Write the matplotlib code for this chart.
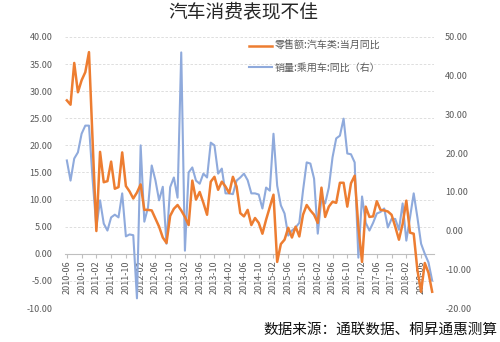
import matplotlib
matplotlib.use("Agg")
import matplotlib.pyplot as plt
import numpy as np
import pandas as pd

plt.rcParams['font.family'] = ['Noto Sans CJK SC', 'DejaVu Sans']

# Monthly series, 2010-06 .. 2018-09
months = pd.period_range("2010-06", "2018-09", freq="M").strftime("%Y-%m").tolist()

retail_auto_yoy = [
    28.3, 27.5, 35.2, 29.8, 32.0, 33.5, 37.2,
    20.5, 4.2, 18.8, 13.2, 13.4, 17.0, 12.0, 12.3, 18.7, 12.5, 11.5, 10.2,
    11.3, 12.8, 8.1, 8.1, 8.0, 6.5, 5.0, 3.0, 2.0, 7.0, 8.3, 9.0,
    8.0, 6.8, 5.3, 13.5, 10.0, 11.4, 9.4, 7.2, 13.3, 14.2, 11.8, 13.3,
    12.4, 11.2, 14.2, 12.4, 7.5, 6.9, 8.1, 5.3, 6.6, 5.7, 3.7, 6.3,
    8.6, 10.9, -1.5, 1.8, 2.6, 4.8, 3.0, 5.0, 3.2, 7.2, 9.0, 8.0,
    7.2, 5.7, 12.2, 6.8, 8.7, 9.6, 9.4, 13.1, 13.1, 8.7, 13.0, 14.4,
    5.0, -1.5, 8.7, 6.8, 6.9, 9.7, 8.1, 8.0, 7.8, 7.2, 5.0, 2.6,
    5.5, 9.8, 3.9, 3.7, -3.0, -7.0, -1.7, -3.5, -7.0,
]

car_sales_yoy = [
    18.1, 12.9, 18.6, 20.2, 25.0, 27.1, 27.1,
    13.0, 0.8, 7.8, 1.8, 0.0, 3.4, 4.1, 3.4, 9.6, -1.5, -1.0, -1.2,
    -17.5, 22.0, 2.3, 6.0, 16.8, 13.0, 7.8, 11.3, -3.4, 11.2, 13.7, 8.5,
    46.0, -5.2, 15.0, 16.3, 12.9, 12.1, 14.7, 13.7, 22.7, 22.0, 14.7, 16.0,
    9.6, 9.6, 9.4, 12.9, 13.7, 14.7, 13.0, 9.6, 9.6, 9.3, 5.7, 11.1,
    10.3, 25.0, 11.6, 6.5, 4.4, -1.3, 0.0, 0.8, 2.0, 10.3, 17.6, 17.3,
    13.4, -0.8, 8.3, 7.0, 11.1, 18.9, 23.8, 24.5, 28.9, 19.9, 19.7, 17.6,
    -7.0, 8.8, 2.0, 0.0, 2.0, 4.4, 4.8, 5.7, 0.8, 3.0, 3.0, 0.2,
    7.0, -2.6, 3.4, 9.6, 3.4, -3.4, -6.0, -8.2, -12.9,
]

left_ticks = [-10, -5, 0, 5, 10, 15, 20, 25, 30, 35, 40]
right_ticks = [-20, -10, 0, 10, 20, 30, 40, 50]

title = "汽车消费表现不佳"
label_retail = "零售额:汽车类:当月同比"
label_sales = "销量:乘用车:同比（右）"
source = "数据来源：通联数据、桐昇通惠测算"

ORANGE = "#ED7D31"
BLUE = "#8FAADC"
GREY = "#595959"

fig = plt.figure(figsize=(5.0, 3.42), dpi=100)
ax1 = fig.add_axes([0.130, 0.0994, 0.738, 0.7926])
ax2 = ax1.twinx()
ax2.set_zorder(ax1.get_zorder() - 1)
ax1.patch.set_visible(False)

ax1.set_xlim(-0.5, len(months) - 0.5)
ax1.set_ylim(-10, 40)
ax2.set_ylim(-20, 50)

x = np.arange(len(months))

# the sales series uses the right-hand scale but is drawn in the main axes
line_sales, = ax1.plot(x, car_sales_yoy, color=BLUE, lw=1.5, zorder=2,
                       transform=ax2.transData)
line_retail, = ax1.plot(x, retail_auto_yoy, color=ORANGE, lw=1.8, zorder=3)

ax1.set_axisbelow(True)

ax1.set_yticks(left_ticks)
ax1.set_yticklabels([f"{v:.2f}" for v in left_ticks], fontsize=6.5, color=GREY)
ax2.set_yticks(right_ticks)
ax2.set_yticklabels([f"{v:.2f}" for v in right_ticks], fontsize=6.5, color=GREY)
ax1.tick_params(axis='y', length=0, pad=9)
ax2.tick_params(axis='y', length=0, pad=8)

# gridlines on the left axis scale
for v in left_ticks:
    ax1.axhline(v, color="#D9D9D9", lw=0.6, ls=(0, (3, 2)), zorder=0.1)

for side in ["top", "left", "right"]:
    ax1.spines[side].set_visible(False)
    ax2.spines[side].set_visible(False)
ax2.spines["bottom"].set_visible(False)

# category axis drawn along zero
ax1.spines["bottom"].set_position(("data", 0))
ax1.spines["bottom"].set_color("#BFBFBF")
ax1.spines["bottom"].set_linewidth(0.8)
ax1.spines["bottom"].set_zorder(0.5)
tick_idx = list(range(0, len(months), 4))
ax1.set_xticks(tick_idx)
ax1.set_xticklabels([months[i] for i in tick_idx], rotation=90, fontsize=6.5,
                    color=GREY, va="top")
ax1.tick_params(axis='x', length=3, color="#BFBFBF", pad=1.5)
ax2.tick_params(axis='x', bottom=False, labelbottom=False)

fig.text(0.486, 0.965, title, ha="center", va="center", fontsize=13.5, color="#262626")

fig.legend([line_retail, line_sales], [label_retail, label_sales], loc="upper left",
           bbox_to_anchor=(0.498, 0.880), frameon=False, fontsize=7.2,
           handlelength=2.3, handletextpad=0.3, labelspacing=1.15,
           borderaxespad=0, borderpad=0, labelcolor=GREY)

fig.text(0.994, 0.035, source, ha="right", va="center", fontsize=10.5, color="#111111")

fig.savefig("out.png", dpi=100)
